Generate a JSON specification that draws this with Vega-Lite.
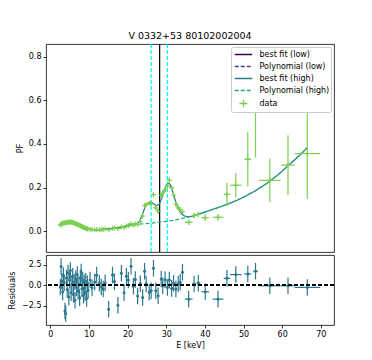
{
 "$schema": "https://vega.github.io/schema/vega-lite/v6.json",
 "padding": {"left": 8, "top": 30, "right": 4, "bottom": 4},
 "background": "white",
 "spacing": 0,
 "config": {
  "font": "DejaVu Sans",
  "view": {"stroke": "#222", "strokeWidth": 0.9},
  "axis": {"labelFont": "DejaVu Sans", "labelFontSize": 8, "labelColor": "#000", "titleFont": "DejaVu Sans", "titleFontSize": 8, "titleFontWeight": "normal", "titleColor": "#000", "tickColor": "#000", "tickSize": 3, "tickWidth": 0.8, "labelPadding": 2, "domain": false, "grid": false, "labelOverlap": false, "labelFlush": false}
 },
 "datasets": {
  "pts": [
   {"E":2.6,"dE":0.1,"pf":0.028,"dpf":0.003,"res":-0.2,"dr":1},
   {"E":2.8,"dE":0.1,"pf":0.032,"dpf":0.003,"res":2.27,"dr":1},
   {"E":3.0,"dE":0.1,"pf":0.036,"dpf":0.003,"res":0.5,"dr":1},
   {"E":3.2,"dE":0.1,"pf":0.034,"dpf":0.003,"res":-0.8,"dr":1},
   {"E":3.4,"dE":0.1,"pf":0.039,"dpf":0.003,"res":1.2,"dr":1},
   {"E":3.6,"dE":0.1,"pf":0.037,"dpf":0.003,"res":0.3,"dr":1},
   {"E":3.8,"dE":0.1,"pf":0.040,"dpf":0.003,"res":-3.1,"dr":1},
   {"E":4.0,"dE":0.1,"pf":0.038,"dpf":0.003,"res":-3.4,"dr":1},
   {"E":4.2,"dE":0.1,"pf":0.041,"dpf":0.003,"res":0.9,"dr":1},
   {"E":4.4,"dE":0.1,"pf":0.040,"dpf":0.003,"res":-0.5,"dr":1},
   {"E":4.6,"dE":0.1,"pf":0.042,"dpf":0.003,"res":1.5,"dr":1},
   {"E":4.8,"dE":0.1,"pf":0.041,"dpf":0.003,"res":-1.4,"dr":1},
   {"E":5.0,"dE":0.1,"pf":0.043,"dpf":0.003,"res":0.6,"dr":1},
   {"E":5.2,"dE":0.1,"pf":0.040,"dpf":0.003,"res":1.8,"dr":1},
   {"E":5.4,"dE":0.1,"pf":0.042,"dpf":0.003,"res":-0.9,"dr":1},
   {"E":5.6,"dE":0.1,"pf":0.041,"dpf":0.003,"res":0.2,"dr":1},
   {"E":5.8,"dE":0.1,"pf":0.039,"dpf":0.003,"res":1.1,"dr":1},
   {"E":6.0,"dE":0.1,"pf":0.040,"dpf":0.003,"res":-1.1,"dr":1},
   {"E":6.2,"dE":0.1,"pf":0.037,"dpf":0.003,"res":0.4,"dr":1},
   {"E":6.4,"dE":0.1,"pf":0.036,"dpf":0.003,"res":-1.8,"dr":1},
   {"E":6.6,"dE":0.1,"pf":0.035,"dpf":0.003,"res":0.8,"dr":1},
   {"E":6.8,"dE":0.1,"pf":0.033,"dpf":0.003,"res":-0.3,"dr":1},
   {"E":7.0,"dE":0.1,"pf":0.032,"dpf":0.003,"res":1.3,"dr":1},
   {"E":7.2,"dE":0.1,"pf":0.030,"dpf":0.003,"res":-0.7,"dr":1},
   {"E":7.4,"dE":0.1,"pf":0.029,"dpf":0.003,"res":0.1,"dr":1},
   {"E":7.6,"dE":0.1,"pf":0.027,"dpf":0.003,"res":-1.5,"dr":1},
   {"E":7.8,"dE":0.1,"pf":0.025,"dpf":0.003,"res":0.9,"dr":1},
   {"E":8.0,"dE":0.1,"pf":0.023,"dpf":0.003,"res":1.6,"dr":1},
   {"E":8.2,"dE":0.1,"pf":0.022,"dpf":0.003,"res":-0.4,"dr":1},
   {"E":8.4,"dE":0.1,"pf":0.020,"dpf":0.003,"res":0.6,"dr":1},
   {"E":8.6,"dE":0.1,"pf":0.018,"dpf":0.003,"res":-1.2,"dr":1},
   {"E":8.8,"dE":0.1,"pf":0.016,"dpf":0.003,"res":0.3,"dr":1},
   {"E":9.0,"dE":0.1,"pf":0.015,"dpf":0.003,"res":-0.9,"dr":1},
   {"E":9.2,"dE":0.1,"pf":0.013,"dpf":0.003,"res":0.5,"dr":1},
   {"E":9.4,"dE":0.1,"pf":0.012,"dpf":0.003,"res":-1.6,"dr":1},
   {"E":9.6,"dE":0.1,"pf":0.011,"dpf":0.003,"res":0.2,"dr":1},
   {"E":9.8,"dE":0.1,"pf":0.010,"dpf":0.003,"res":-0.6,"dr":1},
   {"E":10.3,"dE":0.25,"pf":0.009,"dpf":0.004,"res":0.65,"dr":1},
   {"E":10.8,"dE":0.25,"pf":0.008,"dpf":0.004,"res":-0.3,"dr":1},
   {"E":11.5,"dE":0.25,"pf":0.007,"dpf":0.004,"res":0.4,"dr":1},
   {"E":12.0,"dE":0.25,"pf":0.008,"dpf":0.004,"res":1.26,"dr":1},
   {"E":12.7,"dE":0.25,"pf":0.008,"dpf":0.004,"res":0.24,"dr":1},
   {"E":13.2,"dE":0.25,"pf":0.007,"dpf":0.004,"res":-0.2,"dr":1},
   {"E":13.7,"dE":0.25,"pf":0.008,"dpf":0.004,"res":-0.45,"dr":1},
   {"E":14.2,"dE":0.25,"pf":0.010,"dpf":0.004,"res":0.28,"dr":1},
   {"E":15.1,"dE":0.25,"pf":0.007,"dpf":0.004,"res":-2.9,"dr":1},
   {"E":16.1,"dE":0.25,"pf":0.014,"dpf":0.004,"res":1.26,"dr":1},
   {"E":16.6,"dE":0.25,"pf":0.015,"dpf":0.004,"res":0.45,"dr":1},
   {"E":17.5,"dE":0.25,"pf":0.012,"dpf":0.004,"res":-2.4,"dr":1},
   {"E":18.4,"dE":0.25,"pf":0.021,"dpf":0.004,"res":1.46,"dr":1},
   {"E":19.1,"dE":0.25,"pf":0.017,"dpf":0.004,"res":-0.9,"dr":1},
   {"E":19.7,"dE":0.25,"pf":0.024,"dpf":0.004,"res":1.1,"dr":1},
   {"E":20.2,"dE":0.25,"pf":0.025,"dpf":0.004,"res":0.65,"dr":1},
   {"E":20.9,"dE":0.25,"pf":0.034,"dpf":0.004,"res":2.3,"dr":1},
   {"E":21.5,"dE":0.25,"pf":0.028,"dpf":0.004,"res":-0.1,"dr":1},
   {"E":22.0,"dE":0.25,"pf":0.033,"dpf":0.004,"res":0.7,"dr":1},
   {"E":22.6,"dE":0.25,"pf":0.030,"dpf":0.004,"res":-1.3,"dr":1},
   {"E":23.3,"dE":0.3,"pf":0.045,"dpf":0.006,"res":0.2,"dr":1},
   {"E":23.9,"dE":0.3,"pf":0.07,"dpf":0.006,"res":-1.46,"dr":1},
   {"E":24.4,"dE":0.3,"pf":0.118,"dpf":0.006,"res":1.7,"dr":1},
   {"E":24.8,"dE":0.3,"pf":0.122,"dpf":0.006,"res":0.2,"dr":1},
   {"E":25.6,"dE":0.3,"pf":0.128,"dpf":0.006,"res":-0.85,"dr":1},
   {"E":26.1,"dE":0.3,"pf":0.125,"dpf":0.006,"res":-0.65,"dr":1},
   {"E":26.7,"dE":0.3,"pf":0.168,"dpf":0.012,"res":2.07,"dr":1},
   {"E":27.3,"dE":0.3,"pf":0.107,"dpf":0.01,"res":-0.65,"dr":1},
   {"E":27.9,"dE":0.3,"pf":0.092,"dpf":0.01,"res":-1.27,"dr":1},
   {"E":28.7,"dE":0.3,"pf":0.165,"dpf":0.01,"res":0.77,"dr":1},
   {"E":29.1,"dE":0.3,"pf":0.175,"dpf":0.01,"res":-0.05,"dr":1},
   {"E":29.7,"dE":0.3,"pf":0.19,"dpf":0.01,"res":0.68,"dr":1},
   {"E":30.3,"dE":0.3,"pf":0.207,"dpf":0.01,"res":-0.25,"dr":1},
   {"E":30.8,"dE":0.3,"pf":0.234,"dpf":0.012,"res":0.65,"dr":1},
   {"E":31.4,"dE":0.3,"pf":0.199,"dpf":0.01,"res":-0.37,"dr":1},
   {"E":31.9,"dE":0.3,"pf":0.165,"dpf":0.01,"res":0.24,"dr":1},
   {"E":32.5,"dE":0.3,"pf":0.125,"dpf":0.01,"res":-0.45,"dr":1},
   {"E":33.1,"dE":0.3,"pf":0.107,"dpf":0.01,"res":0.16,"dr":1},
   {"E":33.6,"dE":0.3,"pf":0.1,"dpf":0.01,"res":0.37,"dr":1},
   {"E":34.2,"dE":0.3,"pf":0.09,"dpf":0.01,"res":1.59,"dr":1},
   {"E":35.8,"dE":1.0,"pf":0.041,"dpf":0.012,"res":-1.67,"dr":1},
   {"E":37.2,"dE":0.5,"pf":0.072,"dpf":0.012,"res":0.16,"dr":1},
   {"E":38.3,"dE":0.5,"pf":0.077,"dpf":0.012,"res":0.28,"dr":1},
   {"E":40.1,"dE":1.0,"pf":0.062,"dpf":0.015,"res":-0.78,"dr":1},
   {"E":43.4,"dE":1.4,"pf":0.064,"dpf":0.015,"res":-1.67,"dr":1},
   {"E":45.7,"dE":0.85,"pf":0.169,"dpf":0.053,"res":0.85,"dr":1},
   {"E":48.0,"dE":1.5,"pf":0.211,"dpf":0.056,"res":1.3,"dr":1},
   {"E":51.1,"dE":0.9,"pf":0.33,"dpf":0.125,"res":1.38,"dr":1},
   {"E":53.1,"dE":0.6,"pf":0.548,"dpf":0.21,"res":1.71,"dr":1},
   {"E":56.8,"dE":2.8,"pf":0.233,"dpf":0.1,"res":-0.05,"dr":1},
   {"E":61.5,"dE":1.8,"pf":0.303,"dpf":0.137,"res":-0.05,"dr":1},
   {"E":66.5,"dE":3.3,"pf":0.356,"dpf":0.207,"res":-0.25,"dr":1}
  ],
  "curves": [
   {"E":2.5,"pf":0.029,"series":"best fit (low)"},
   {"E":3,"pf":0.035,"series":"best fit (low)"},
   {"E":3.5,"pf":0.038,"series":"best fit (low)"},
   {"E":4,"pf":0.040,"series":"best fit (low)"},
   {"E":5,"pf":0.042,"series":"best fit (low)"},
   {"E":6,"pf":0.039,"series":"best fit (low)"},
   {"E":7,"pf":0.032,"series":"best fit (low)"},
   {"E":8,"pf":0.023,"series":"best fit (low)"},
   {"E":9,"pf":0.015,"series":"best fit (low)"},
   {"E":10,"pf":0.009,"series":"best fit (low)"},
   {"E":11,"pf":0.007,"series":"best fit (low)"},
   {"E":12,"pf":0.007,"series":"best fit (low)"},
   {"E":14,"pf":0.009,"series":"best fit (low)"},
   {"E":16,"pf":0.012,"series":"best fit (low)"},
   {"E":18,"pf":0.017,"series":"best fit (low)"},
   {"E":20,"pf":0.024,"series":"best fit (low)"},
   {"E":22,"pf":0.032,"series":"best fit (low)"},
   {"E":2.5,"pf":0.030,"series":"Polynomial (low)"},
   {"E":4,"pf":0.039,"series":"Polynomial (low)"},
   {"E":5,"pf":0.041,"series":"Polynomial (low)"},
   {"E":6,"pf":0.038,"series":"Polynomial (low)"},
   {"E":7,"pf":0.032,"series":"Polynomial (low)"},
   {"E":8,"pf":0.024,"series":"Polynomial (low)"},
   {"E":9,"pf":0.016,"series":"Polynomial (low)"},
   {"E":10,"pf":0.010,"series":"Polynomial (low)"},
   {"E":12,"pf":0.007,"series":"Polynomial (low)"},
   {"E":14,"pf":0.009,"series":"Polynomial (low)"},
   {"E":16,"pf":0.012,"series":"Polynomial (low)"},
   {"E":18,"pf":0.017,"series":"Polynomial (low)"},
   {"E":20,"pf":0.024,"series":"Polynomial (low)"},
   {"E":22,"pf":0.031,"series":"Polynomial (low)"},
   {"E":12,"pf":0.007,"series":"best fit (high)"},
   {"E":14,"pf":0.009,"series":"best fit (high)"},
   {"E":16,"pf":0.012,"series":"best fit (high)"},
   {"E":18,"pf":0.017,"series":"best fit (high)"},
   {"E":20,"pf":0.024,"series":"best fit (high)"},
   {"E":22,"pf":0.031,"series":"best fit (high)"},
   {"E":23,"pf":0.042,"series":"best fit (high)"},
   {"E":23.8,"pf":0.075,"series":"best fit (high)"},
   {"E":24.5,"pf":0.11,"series":"best fit (high)"},
   {"E":25.2,"pf":0.128,"series":"best fit (high)"},
   {"E":25.8,"pf":0.134,"series":"best fit (high)"},
   {"E":26.4,"pf":0.13,"series":"best fit (high)"},
   {"E":27,"pf":0.122,"series":"best fit (high)"},
   {"E":27.6,"pf":0.118,"series":"best fit (high)"},
   {"E":28.2,"pf":0.124,"series":"best fit (high)"},
   {"E":28.8,"pf":0.15,"series":"best fit (high)"},
   {"E":29.4,"pf":0.183,"series":"best fit (high)"},
   {"E":29.9,"pf":0.207,"series":"best fit (high)"},
   {"E":30.4,"pf":0.22,"series":"best fit (high)"},
   {"E":30.9,"pf":0.217,"series":"best fit (high)"},
   {"E":31.4,"pf":0.197,"series":"best fit (high)"},
   {"E":32,"pf":0.163,"series":"best fit (high)"},
   {"E":32.6,"pf":0.127,"series":"best fit (high)"},
   {"E":33.2,"pf":0.1,"series":"best fit (high)"},
   {"E":33.8,"pf":0.083,"series":"best fit (high)"},
   {"E":34.5,"pf":0.072,"series":"best fit (high)"},
   {"E":35.2,"pf":0.067,"series":"best fit (high)"},
   {"E":35.9,"pf":0.066,"series":"best fit (high)"},
   {"E":36.8,"pf":0.069,"series":"best fit (high)"},
   {"E":38,"pf":0.076,"series":"best fit (high)"},
   {"E":41,"pf":0.094,"series":"best fit (high)"},
   {"E":44,"pf":0.112,"series":"best fit (high)"},
   {"E":47,"pf":0.132,"series":"best fit (high)"},
   {"E":50,"pf":0.156,"series":"best fit (high)"},
   {"E":53,"pf":0.185,"series":"best fit (high)"},
   {"E":56,"pf":0.219,"series":"best fit (high)"},
   {"E":59,"pf":0.26,"series":"best fit (high)"},
   {"E":62,"pf":0.308,"series":"best fit (high)"},
   {"E":64.5,"pf":0.348,"series":"best fit (high)"},
   {"E":66.5,"pf":0.383,"series":"best fit (high)"},
   {"E":20,"pf":0.031,"series":"Polynomial (high)"},
   {"E":23,"pf":0.033,"series":"Polynomial (high)"},
   {"E":26,"pf":0.037,"series":"Polynomial (high)"},
   {"E":29,"pf":0.043,"series":"Polynomial (high)"},
   {"E":32,"pf":0.051,"series":"Polynomial (high)"},
   {"E":35,"pf":0.062,"series":"Polynomial (high)"},
   {"E":38,"pf":0.077,"series":"Polynomial (high)"},
   {"E":41,"pf":0.094,"series":"Polynomial (high)"},
   {"E":44,"pf":0.112,"series":"Polynomial (high)"},
   {"E":47,"pf":0.132,"series":"Polynomial (high)"},
   {"E":50,"pf":0.156,"series":"Polynomial (high)"},
   {"E":53,"pf":0.185,"series":"Polynomial (high)"},
   {"E":56,"pf":0.219,"series":"Polynomial (high)"},
   {"E":59,"pf":0.26,"series":"Polynomial (high)"},
   {"E":62,"pf":0.308,"series":"Polynomial (high)"},
   {"E":64.5,"pf":0.348,"series":"Polynomial (high)"},
   {"E":66.5,"pf":0.383,"series":"Polynomial (high)"}
  ]
 },
 "vconcat": [
  {
   "title": {"text": "V 0332+53 80102002004", "fontSize": 9.5, "fontWeight": "normal", "font": "DejaVu Sans", "color": "#000", "offset": 3},
   "width": 288,
   "height": 208,
   "layer": [
    {
     "data": {"values": [{"xl": 26.1}, {"xl": 30.3}]},
     "mark": {"type": "rule", "color": "#00ffff", "strokeDash": [4, 2], "strokeWidth": 1.3},
     "encoding": {"x": {"field": "xl", "type": "quantitative", "scale": {"domain": [-1.1, 73.4], "nice": false}, "axis": null}}
    },
    {
     "data": {"values": [{"xl": 28.3}]},
     "mark": {"type": "rule", "color": "#000000", "strokeWidth": 1.2},
     "encoding": {"x": {"field": "xl", "type": "quantitative", "scale": {"domain": [-1.1, 73.4], "nice": false}, "axis": null}}
    },
    {
     "data": {"name": "curves"},
     "mark": {"type": "line", "strokeWidth": 1.2, "clip": true},
     "encoding": {
      "x": {"field": "E", "type": "quantitative", "scale": {"domain": [-1.1, 73.4], "nice": false}, "axis": null},
      "y": {"field": "pf", "type": "quantitative", "scale": {"domain": [-0.095, 0.858], "nice": false}, "axis": {"title": "PF", "values": [0, 0.2, 0.4, 0.6, 0.8], "format": ".1f", "titlePadding": 4}},
      "color": {"field": "series", "type": "nominal",
       "scale": {"domain": ["best fit (low)", "Polynomial (low)", "best fit (high)", "Polynomial (high)", "data"], "range": ["#440154", "#414487", "#2a788e", "#22a884", "#7ad151"]},
       "legend": {"title": null, "orient": "top-right", "offset": 3, "fillColor": "white", "strokeColor": "#cccccc", "cornerRadius": 2, "padding": 1.5, "labelFontSize": 8, "labelFont": "DejaVu Sans", "labelColor": "#000", "symbolSize": 100, "symbolStrokeWidth": 1.3, "rowPadding": 2, "symbolOffset": 5, "labelOffset": 10,
        "encode": {"symbols": {"update": {
         "shape": {"signal": "datum.value === 'data' ? 'M-0.8,0H0.8M0,-0.75V0.75' : 'M-1.75,0H1.75'"},
         "strokeDash": {"signal": "indexof(datum.value, 'Polynomial') === 0 ? [3, 1.5] : [1, 0]"}
        }}}}},
      "strokeDash": {"field": "series", "type": "nominal", "scale": {"domain": ["best fit (low)", "Polynomial (low)", "best fit (high)", "Polynomial (high)", "data"], "range": [[1, 0], [4, 2], [1, 0], [4, 2], [1, 0]]}, "legend": null}
     }
    },
    {
     "data": {"name": "pts"},
     "mark": {"type": "errorbar", "color": "#7ad151", "thickness": 1.2},
     "encoding": {
      "x": {"field": "E", "type": "quantitative", "scale": {"domain": [-1.1, 73.4], "nice": false}, "axis": null},
      "y": {"field": "pf", "type": "quantitative", "scale": {"domain": [-0.095, 0.858], "nice": false}, "axis": {"title": "PF", "values": [0, 0.2, 0.4, 0.6, 0.8], "format": ".1f", "titlePadding": 4}},
      "yError": {"field": "dpf"}
     }
    },
    {
     "data": {"name": "pts"},
     "mark": {"type": "errorbar", "color": "#7ad151", "thickness": 1.2},
     "encoding": {
      "x": {"field": "E", "type": "quantitative", "scale": {"domain": [-1.1, 73.4], "nice": false}, "axis": null},
      "xError": {"field": "dE"},
      "y": {"field": "pf", "type": "quantitative", "scale": {"domain": [-0.095, 0.858], "nice": false}, "axis": {"title": "PF", "values": [0, 0.2, 0.4, 0.6, 0.8], "format": ".1f", "titlePadding": 4}}
     }
    },
    {
     "data": {"name": "pts"},
     "mark": {"type": "point", "shape": "M-1,0H1M0,-1V1", "filled": false, "size": 25, "strokeWidth": 1.1, "color": "#7ad151", "opacity": 1},
     "encoding": {
      "x": {"field": "E", "type": "quantitative", "scale": {"domain": [-1.1, 73.4], "nice": false}, "axis": null},
      "y": {"field": "pf", "type": "quantitative", "scale": {"domain": [-0.095, 0.858], "nice": false}, "axis": {"title": "PF", "values": [0, 0.2, 0.4, 0.6, 0.8], "format": ".1f", "titlePadding": 4}}
     }
    }
   ]
  },
  {
   "width": 288,
   "height": 70,
   "data": {"name": "pts"},
   "layer": [
    {
     "mark": {"type": "errorbar", "color": "#2a788e", "thickness": 1.2},
     "encoding": {
      "x": {"field": "E", "type": "quantitative", "scale": {"domain": [-1.1, 73.4], "nice": false}, "axis": {"title": "E [keV]", "values": [0, 10, 20, 30, 40, 50, 60, 70], "format": "d", "titlePadding": 3}},
      "y": {"field": "res", "type": "quantitative", "scale": {"domain": [-4.8, 3.67], "nice": false}, "axis": {"title": "Residuals", "values": [-2.5, 0, 2.5], "format": ".1f", "titlePadding": 5}},
      "yError": {"field": "dr"}
     }
    },
    {
     "mark": {"type": "errorbar", "color": "#2a788e", "thickness": 1.2},
     "encoding": {
      "x": {"field": "E", "type": "quantitative", "scale": {"domain": [-1.1, 73.4], "nice": false}, "axis": {"title": "E [keV]", "values": [0, 10, 20, 30, 40, 50, 60, 70], "format": "d", "titlePadding": 3}},
      "xError": {"field": "dE"},
      "y": {"field": "res", "type": "quantitative", "scale": {"domain": [-4.8, 3.67], "nice": false}, "axis": {"title": "Residuals", "values": [-2.5, 0, 2.5], "format": ".1f", "titlePadding": 5}}
     }
    },
    {
     "mark": {"type": "circle", "size": 9, "color": "#2a788e", "opacity": 1},
     "encoding": {
      "x": {"field": "E", "type": "quantitative", "scale": {"domain": [-1.1, 73.4], "nice": false}, "axis": {"title": "E [keV]", "values": [0, 10, 20, 30, 40, 50, 60, 70], "format": "d", "titlePadding": 3}},
      "y": {"field": "res", "type": "quantitative", "scale": {"domain": [-4.8, 3.67], "nice": false}, "axis": {"title": "Residuals", "values": [-2.5, 0, 2.5], "format": ".1f", "titlePadding": 5}}
     }
    },
    {
     "mark": {"type": "rule", "color": "#000000", "strokeDash": [4, 2], "strokeWidth": 1.2},
     "encoding": {"y": {"datum": 0, "type": "quantitative", "scale": {"domain": [-4.8, 3.67], "nice": false}, "axis": {"title": "Residuals", "values": [-2.5, 0, 2.5], "format": ".1f", "titlePadding": 5}}}
    }
   ]
  }
 ]
}
